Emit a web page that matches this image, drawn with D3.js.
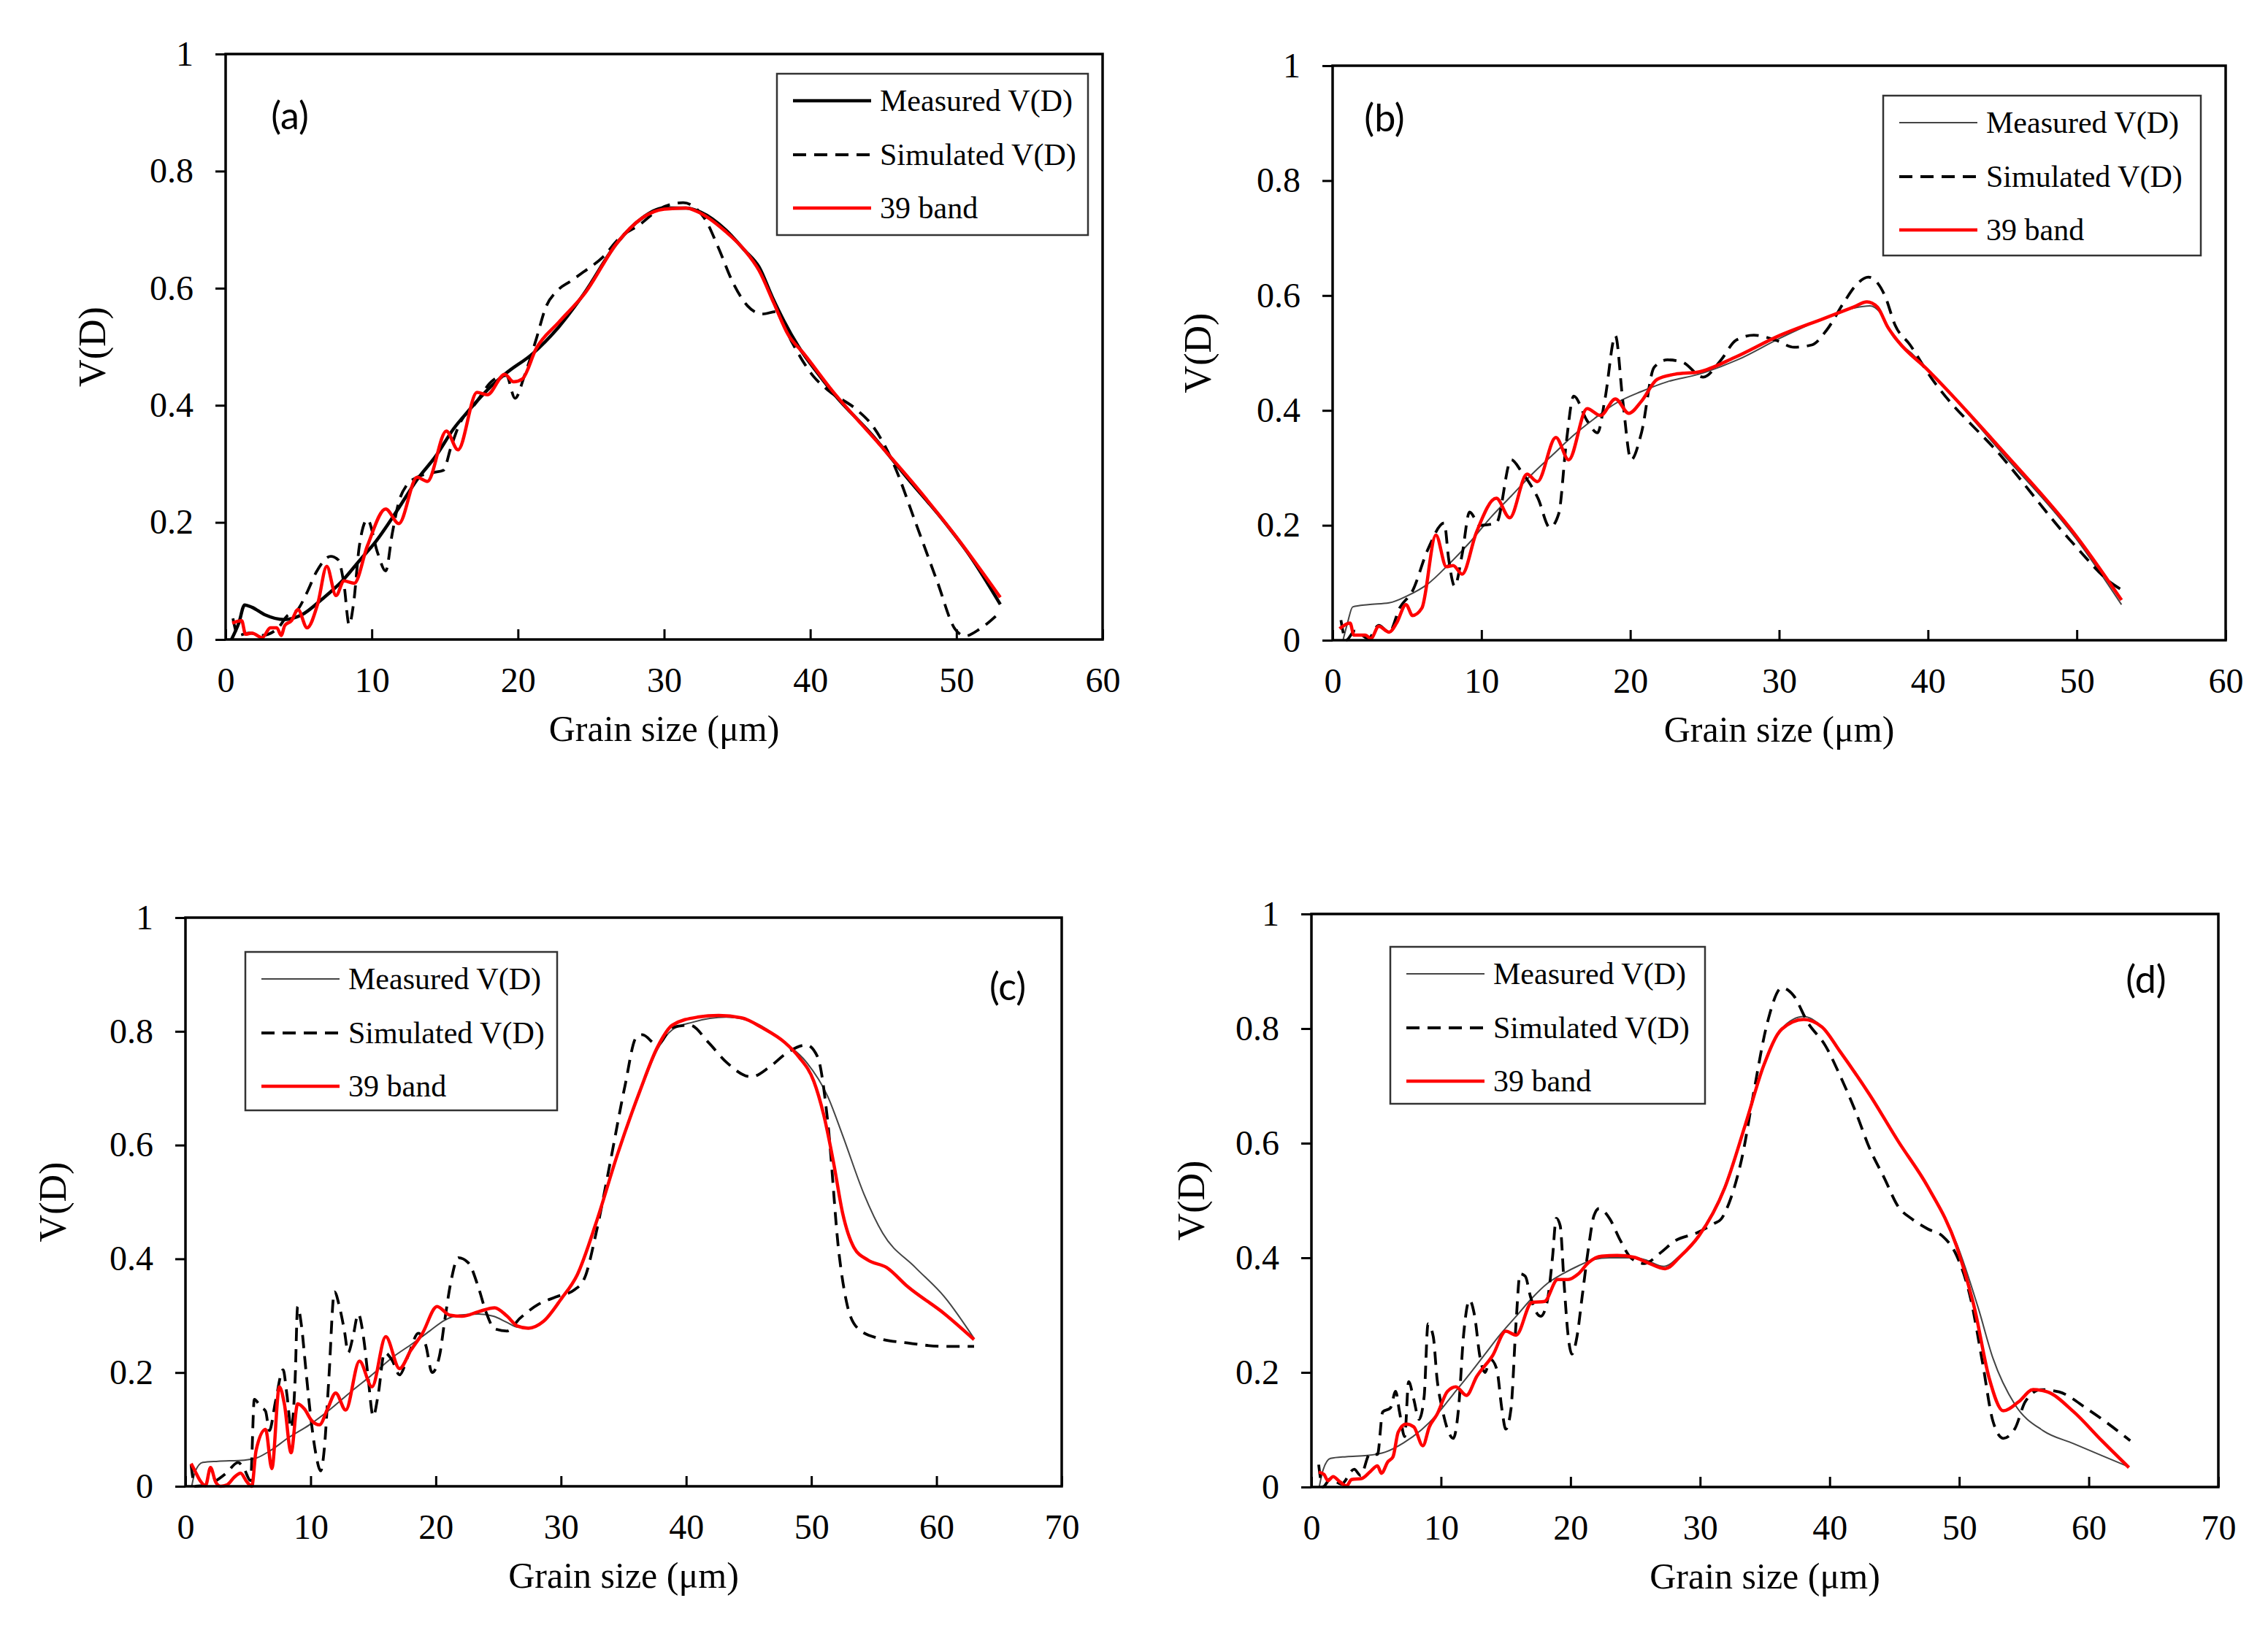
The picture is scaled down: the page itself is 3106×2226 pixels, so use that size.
<!DOCTYPE html>
<html>
<head>
<meta charset="utf-8">
<script src="https://cdn.jsdelivr.net/npm/d3@7"></script>
<style>
  html, body { margin: 0; padding: 0; background: #ffffff; }
  svg { display: block; }
</style>
</head>
<body>
<script>
// ---- data: [grain size (um), V(D)] ----
var xTicksAB = [0, 10, 20, 30, 40, 50, 60];
var xTicksCD = [0, 10, 20, 30, 40, 50, 60, 70];
var yTicks = [0, 0.2, 0.4, 0.6, 0.8, 1];
var seriesNames = ["Measured V(D)", "Simulated V(D)", "39 band"];
var panelLabels = ["(a)", "(b)", "(c)", "(d)"];

var aMeasured = [[0.4,0],[0.9,0.028],[1.3,0.059],[1.8,0.055],[2.7,0.042],[4.0,0.034],[5.2,0.042],[6.6,0.069],[7.9,0.098],[9.2,0.136],[10.2,0.165],[11.7,0.219],[13.1,0.273],[14.4,0.314],[15.6,0.36],[16.7,0.393],[17.9,0.426],[19.2,0.455],[21.0,0.488],[22.8,0.534],[24.5,0.59],[26.8,0.678],[28.5,0.72],[30,0.737],[31.5,0.737],[32.5,0.73],[34.2,0.70],[35.5,0.665],[36.5,0.636],[37.4,0.585],[38.2,0.544],[39.2,0.50],[40.5,0.455],[41.7,0.417],[44.2,0.35],[46.7,0.274],[49.2,0.2],[51,0.14],[53,0.06]];
var aSimulated = [[0.5,0.036],[0.85,0.007],[1.6,0.011],[2.5,0.007],[3.6,0.02],[4.2,0.04],[4.9,0.05],[5.6,0.082],[6.2,0.115],[7.2,0.142],[7.7,0.136],[8.1,0.094],[8.45,0.025],[8.75,0.061],[9.15,0.16],[9.7,0.205],[10.4,0.148],[10.95,0.117],[11.4,0.181],[11.85,0.235],[12.4,0.264],[13.1,0.277],[14.2,0.285],[14.9,0.289],[15.4,0.327],[16.0,0.368],[17,0.4],[18.3,0.443],[19.2,0.451],[19.8,0.412],[20.45,0.451],[21.25,0.513],[21.9,0.567],[22.7,0.596],[23.6,0.612],[24.5,0.628],[25.8,0.653],[27,0.687],[28.3,0.708],[29.8,0.737],[31.3,0.746],[32.75,0.72],[33.7,0.67],[34.7,0.61],[35.7,0.57],[36.7,0.556],[37.7,0.56],[38.7,0.51],[40.2,0.45],[41.2,0.426],[43.2,0.392],[44.2,0.367],[45.7,0.3],[47.2,0.2],[48.7,0.098],[49.9,0.018],[50.6,0.006],[51.6,0.018],[53,0.047]];
var aBand = [[0.45,0.028],[1.1,0.032],[1.36,0.009],[1.8,0.011],[2.5,0.003],[3.06,0.02],[3.5,0.02],[3.8,0.007],[4.05,0.024],[4.5,0.032],[4.95,0.051],[5.57,0.02],[6.3,0.061],[6.92,0.125],[7.55,0.075],[8.1,0.1],[8.8,0.096],[9.7,0.16],[10.95,0.223],[11.85,0.198],[13.1,0.277],[13.8,0.27],[15.1,0.356],[15.9,0.324],[17.2,0.422],[17.9,0.418],[19.1,0.453],[19.7,0.44],[20.3,0.445],[21.25,0.497],[22.8,0.542],[24.6,0.592],[26.8,0.678],[28.5,0.72],[30,0.735],[31.5,0.737],[32.5,0.728],[34.2,0.697],[35.5,0.665],[36.5,0.63],[37.5,0.575],[38.5,0.52],[39.5,0.49],[41.5,0.425],[44.5,0.34],[47,0.268],[50,0.175],[53,0.072]];

var bMeasured = [[0.7,0.0],[1.0,0.03],[1.35,0.058],[2.4,0.062],[3.8,0.065],[5.0,0.077],[6.4,0.098],[7.8,0.132],[9.2,0.17],[10.6,0.213],[12.0,0.251],[13.4,0.289],[14.8,0.323],[16.2,0.357],[17.6,0.386],[19.0,0.412],[20.75,0.433],[22.5,0.45],[24.6,0.463],[27.2,0.488],[30,0.525],[33,0.56],[35,0.578],[36.1,0.582],[36.8,0.57],[37.6,0.531],[39,0.497],[40,0.471],[45,0.325],[50,0.175],[53,0.062]];
var bSimulated = [[0.56,0.035],[0.9,0.0],[1.5,0.016],[2.4,0.003],[3.1,0.026],[3.8,0.014],[4.5,0.056],[5.37,0.086],[6.4,0.158],[7.5,0.204],[7.8,0.141],[8.2,0.094],[8.7,0.149],[9.2,0.223],[9.9,0.2],[11.0,0.204],[12.0,0.314],[12.7,0.293],[13.8,0.247],[14.6,0.196],[15.2,0.221],[15.7,0.344],[16.2,0.425],[17.1,0.382],[17.8,0.361],[18.3,0.42],[19.0,0.53],[19.5,0.416],[20.05,0.314],[20.75,0.361],[21.6,0.475],[22.5,0.488],[23.5,0.484],[24.9,0.458],[26.1,0.488],[27.1,0.522],[28.3,0.531],[29.8,0.522],[31,0.51],[32.2,0.514],[33.2,0.54],[34.4,0.59],[35.1,0.616],[36,0.632],[37.1,0.6],[37.8,0.548],[38.8,0.514],[40,0.465],[45,0.318],[49.8,0.167],[52.4,0.098],[53,0.088]];
var bBand = [[0.47,0.02],[1.17,0.03],[1.43,0.009],[2.2,0.009],[2.57,0.003],[3.1,0.024],[3.8,0.014],[4.3,0.03],[4.93,0.062],[5.37,0.043],[6.0,0.056],[6.94,0.183],[7.64,0.128],[8.1,0.13],[8.7,0.115],[9.65,0.187],[11.0,0.247],[11.9,0.213],[13.06,0.289],[13.76,0.276],[15.0,0.353],[15.86,0.314],[17.1,0.403],[18.0,0.391],[19.0,0.42],[19.9,0.395],[20.75,0.416],[21.8,0.454],[23.0,0.463],[24.6,0.467],[27.0,0.492],[30,0.53],[33,0.56],[35,0.58],[35.9,0.589],[36.6,0.58],[37.3,0.545],[38,0.52],[40,0.47],[45,0.33],[50,0.18],[53,0.07]];

var cMeasured = [[0.5,0],[0.76,0.025],[1.38,0.042],[2.6,0.044],[4.7,0.046],[5.7,0.05],[6.8,0.063],[8.2,0.085],[9.9,0.108],[11.6,0.136],[13.2,0.166],[14.9,0.196],[16.5,0.226],[18.2,0.252],[19.5,0.273],[20.7,0.292],[21.9,0.301],[23.4,0.303],[24.6,0.299],[25.7,0.288],[26.5,0.28],[27.5,0.279],[28.6,0.29],[30,0.328],[31.3,0.372],[32.8,0.463],[34.5,0.583],[36.3,0.692],[37.7,0.768],[38.9,0.803],[40.5,0.816],[43.2,0.825],[45.5,0.815],[47.9,0.78],[49.6,0.746],[51.3,0.686],[52.5,0.617],[54.2,0.514],[55.7,0.445],[58.3,0.385],[60.6,0.334],[63,0.26]];
var cSimulated = [[0.45,0.038],[0.76,0],[2.0,0.005],[3.25,0.023],[4.2,0.042],[4.7,0.03],[5.2,0.01],[5.5,0.153],[6.0,0.14],[6.4,0.132],[6.7,0.098],[7.2,0.15],[7.8,0.205],[8.1,0.162],[8.45,0.102],[8.76,0.188],[8.96,0.316],[9.27,0.282],[9.6,0.209],[10.0,0.123],[10.4,0.059],[10.8,0.027],[11.1,0.068],[11.45,0.188],[11.9,0.342],[12.3,0.316],[12.7,0.273],[13.0,0.235],[13.4,0.265],[13.8,0.303],[14.26,0.256],[14.57,0.196],[15.0,0.123],[15.4,0.162],[15.9,0.235],[16.5,0.222],[17.1,0.196],[17.8,0.23],[18.6,0.269],[19.2,0.248],[19.7,0.2],[20.3,0.23],[20.7,0.29],[21.2,0.359],[21.8,0.402],[22.6,0.393],[23.4,0.35],[24.0,0.307],[24.7,0.277],[25.7,0.273],[26.7,0.295],[28.2,0.32],[29.6,0.333],[31.1,0.346],[31.9,0.367],[32.8,0.445],[33.9,0.566],[35.1,0.703],[36,0.789],[36.5,0.794],[37.7,0.776],[38.9,0.807],[40.3,0.811],[41.8,0.78],[43.2,0.746],[45.2,0.72],[46.7,0.738],[48.1,0.763],[49.6,0.776],[50.5,0.755],[51.3,0.643],[52.2,0.411],[52.8,0.325],[53.7,0.278],[55.4,0.26],[57.7,0.252],[60.6,0.246],[63,0.246]];
var cBand = [[0.45,0.04],[0.76,0.027],[1.17,0.01],[1.6,0.001],[2.0,0.033],[2.4,0.008],[2.8,0],[3.35,0.003],[3.9,0.016],[4.4,0.023],[4.9,0.008],[5.3,0],[5.64,0.063],[6.4,0.1],[6.9,0.031],[7.5,0.175],[7.9,0.145],[8.44,0.059],[8.96,0.145],[9.5,0.136],[10.1,0.115],[10.7,0.108],[11.35,0.136],[12.0,0.164],[12.8,0.134],[13.9,0.22],[14.9,0.175],[16.0,0.263],[17.1,0.207],[18.0,0.239],[18.93,0.269],[20.1,0.316],[21.1,0.301],[22.1,0.299],[23.4,0.307],[24.7,0.314],[25.7,0.299],[26.5,0.282],[27.4,0.278],[28.6,0.29],[30.0,0.329],[31.3,0.372],[32.8,0.463],[34.5,0.583],[36.3,0.695],[37.7,0.772],[38.9,0.811],[40.9,0.825],[42.6,0.828],[44.4,0.824],[46.1,0.806],[47.9,0.78],[49,0.755],[50.2,0.712],[51,0.652],[51.8,0.566],[52.5,0.48],[53.4,0.42],[54.5,0.398],[56,0.385],[57.7,0.351],[60.6,0.304],[63,0.258]];

var dMeasured = [[0.6,0],[0.9,0.03],[1.47,0.05],[2.7,0.053],[4.3,0.055],[5.7,0.061],[7.1,0.077],[8.5,0.1],[9.7,0.127],[10.95,0.162],[12.2,0.197],[13.4,0.232],[14.6,0.267],[15.8,0.298],[17.0,0.329],[18.2,0.355],[19.4,0.372],[20.6,0.386],[21.8,0.397],[23.0,0.4],[24.9,0.4],[25.7,0.397],[27.2,0.385],[28.5,0.405],[29.9,0.44],[31.9,0.525],[33.5,0.633],[34.9,0.735],[36.3,0.8],[38,0.821],[39.4,0.803],[40.8,0.76],[43.1,0.684],[45.3,0.603],[47.6,0.523],[49.8,0.425],[51.5,0.31],[52.6,0.225],[54.3,0.144],[56.5,0.098],[58.8,0.076],[61,0.055],[63,0.036]];
var dSimulated = [[0.56,0.039],[0.87,0],[1.5,0.015],[2.3,0.005],[3.3,0.031],[3.8,0.02],[4.5,0.057],[5.1,0.057],[5.5,0.131],[6.1,0.138],[6.5,0.167],[6.8,0.131],[7.2,0.088],[7.5,0.184],[7.9,0.153],[8.3,0.118],[8.7,0.158],[9.0,0.285],[9.4,0.263],[9.7,0.188],[10.1,0.136],[10.5,0.101],[10.95,0.085],[11.35,0.136],[11.75,0.267],[12.2,0.326],[12.6,0.298],[13.0,0.228],[13.4,0.2],[13.8,0.223],[14.3,0.206],[14.7,0.136],[15.0,0.101],[15.4,0.136],[15.8,0.289],[16.1,0.372],[16.5,0.368],[16.9,0.333],[17.3,0.307],[17.7,0.298],[18.2,0.324],[18.6,0.399],[18.9,0.469],[19.2,0.456],[19.5,0.355],[19.8,0.267],[20.1,0.232],[20.5,0.263],[20.9,0.333],[21.4,0.42],[21.8,0.473],[22.2,0.486],[23.0,0.469],[23.85,0.43],[24.7,0.399],[25.7,0.39],[26.9,0.408],[28.1,0.43],[29.7,0.443],[31.1,0.46],[31.6,0.467],[32.4,0.506],[33.3,0.582],[34.1,0.684],[35.2,0.811],[36.3,0.871],[37.2,0.858],[38.3,0.811],[39.7,0.769],[40.8,0.718],[41.95,0.658],[43.1,0.59],[44.2,0.54],[45.3,0.489],[46.4,0.467],[47.6,0.45],[48.7,0.438],[49.8,0.404],[50.9,0.327],[51.8,0.217],[52.6,0.115],[53.4,0.085],[54.3,0.102],[55.1,0.149],[56.3,0.17],[57.7,0.166],[59.9,0.136],[63.2,0.081]];
var dBand = [[0.56,0.026],[0.97,0.022],[1.27,0.011],[1.67,0.018],[2.2,0.009],[2.7,0.002],[3.1,0.013],[3.9,0.015],[4.5,0.026],[5.1,0.037],[5.4,0.024],[5.9,0.044],[6.3,0.053],[6.7,0.096],[7.3,0.11],[7.9,0.105],[8.6,0.072],[9.1,0.105],[9.7,0.127],[10.5,0.167],[11.15,0.175],[11.96,0.16],[12.76,0.193],[14.0,0.23],[15.0,0.272],[15.8,0.265],[17.0,0.322],[18.0,0.324],[19.0,0.362],[19.8,0.362],[20.6,0.372],[21.4,0.392],[22.4,0.403],[23.6,0.404],[24.9,0.401],[25.9,0.392],[27.3,0.381],[28.5,0.403],[29.9,0.438],[31.9,0.522],[33.5,0.633],[34.9,0.735],[36.3,0.799],[38,0.816],[39.4,0.803],[40.8,0.76],[43.1,0.684],[45.3,0.603],[47.6,0.523],[49.8,0.42],[51.2,0.31],[52.3,0.191],[53.4,0.133],[54.6,0.149],[55.7,0.17],[56.8,0.166],[58.8,0.132],[61,0.081],[63.1,0.034]];

// ---- layout (pixels) ----
var W = 3106, H = 2226;
var SERIF = "'Liberation Serif', 'Times New Roman', serif";

var panels = [
    {label: panelLabels[0], left: 309, right: 1510, top: 74, bottom: 876, xTicks: xTicksAB,
     series: [aMeasured, aSimulated, aBand], measColor: "#000000", measWidth: 4.5,
     legend: {x: 1064, y: 101, w: 426, h: 221}, tag: {x: 397, y: 157}, yTitleOff: 183},
    {label: panelLabels[1], left: 1825, right: 3048, top: 90, bottom: 877, xTicks: xTicksAB,
     series: [bMeasured, bSimulated, bBand], measColor: "#444444", measWidth: 2,
     legend: {x: 2579, y: 131, w: 435, h: 219}, tag: {x: 1896, y: 160}, yTitleOff: 185},
    {label: panelLabels[2], left: 254, right: 1454, top: 1257, bottom: 2036, xTicks: xTicksCD,
     series: [cMeasured, cSimulated, cBand], measColor: "#444444", measWidth: 2,
     legend: {x: 336, y: 1304, w: 427, h: 217}, tag: {x: 1380, y: 1350}, yTitleOff: 182},
    {label: panelLabels[3], left: 1796, right: 3038, top: 1252, bottom: 2037, xTicks: xTicksCD,
     series: [dMeasured, dSimulated, dBand], measColor: "#444444", measWidth: 2,
     legend: {x: 1904, y: 1297, w: 431, h: 215}, tag: {x: 2939, y: 1340}, yTitleOff: 165}
];

var svg = d3.select("body").append("svg")
    .attr("width", W).attr("height", H)
    .attr("viewBox", "0 0 " + W + " " + H);
svg.append("rect").attr("width", W).attr("height", H).attr("fill", "#ffffff");

function fmtY(d) {
    if (d === 0) return "0";
    if (d === 1) return "1";
    return d3.format(".1f")(d);
}

function styleFor(p, i) {
    // 0 measured, 1 simulated, 2 39 band
    if (i === 0) return {stroke: p.measColor, width: p.measWidth, dash: null};
    if (i === 1) return {stroke: "#000000", width: 3.8, dash: "18,11"};
    return {stroke: "#ff0000", width: 4.5, dash: null};
}

panels.forEach(function(p) {
    var x = d3.scaleLinear().domain([0, d3.max(p.xTicks)]).range([p.left, p.right]);
    var y = d3.scaleLinear().domain([0, 1]).range([p.bottom, p.top]);
    var g = svg.append("g");

    // x axis: ticks point into the plot
    var xAxis = g.append("g")
        .attr("transform", "translate(0," + p.bottom + ")")
        .call(d3.axisBottom(x).tickValues(p.xTicks).tickSize(-14).tickPadding(38).tickFormat(d3.format("d")));
    // y axis: ticks point outward
    var yAxis = g.append("g")
        .attr("transform", "translate(" + p.left + ",0)")
        .call(d3.axisLeft(y).tickValues(yTicks).tickSize(14).tickPadding(30).tickFormat(fmtY));

    [xAxis, yAxis].forEach(function(ax) {
        ax.select(".domain").remove();
        ax.selectAll("line").attr("stroke", "#000").attr("stroke-width", 3);
        ax.selectAll("text").attr("font-family", SERIF).attr("font-size", 48).attr("fill", "#000");
    });

    // lines
    var line = d3.line()
        .x(function(d) { return x(d[0]); })
        .y(function(d) { return y(d[1]); })
        .curve(d3.curveMonotoneX);

    p.series.forEach(function(data, i) {
        var s = styleFor(p, i);
        g.append("path")
            .datum(data)
            .attr("d", line)
            .attr("fill", "none")
            .attr("stroke", s.stroke)
            .attr("stroke-width", s.width)
            .attr("stroke-dasharray", s.dash)
            .attr("stroke-linejoin", "round")
            .attr("stroke-linecap", "butt");
    });

    // frame
    g.append("rect")
        .attr("x", p.left).attr("y", p.top)
        .attr("width", p.right - p.left).attr("height", p.bottom - p.top)
        .attr("fill", "none").attr("stroke", "#000").attr("stroke-width", 3.5);

    // axis titles
    g.append("text")
        .attr("x", (p.left + p.right) / 2).attr("y", p.bottom + 122)
        .attr("text-anchor", "middle").attr("dominant-baseline", "central")
        .attr("font-family", SERIF).attr("font-size", 50).attr("fill", "#000")
        .text("Grain size (\u03bcm)");
    var cy = (p.top + p.bottom) / 2;
    g.append("text")
        .attr("transform", "translate(" + (p.left - p.yTitleOff) + "," + cy + ") rotate(-90)")
        .attr("text-anchor", "middle").attr("dominant-baseline", "central")
        .attr("font-family", SERIF).attr("font-size", 52).attr("fill", "#000")
        .text("V(D)");

    // panel tag
    g.append("text")
        .attr("x", p.tag.x).attr("y", p.tag.y)
        .attr("text-anchor", "middle").attr("dominant-baseline", "central")
        .attr("font-family", "Lato, 'Open Sans', sans-serif").attr("font-size", 52).attr("fill", "#000")
        .text(p.label);

    // legend
    var L = p.legend;
    var lg = g.append("g").attr("transform", "translate(" + L.x + "," + L.y + ")");
    lg.append("rect").attr("width", L.w).attr("height", L.h)
        .attr("fill", "#ffffff").attr("stroke", "#333").attr("stroke-width", 2.5);
    var rows = [37, 111, 184];
    seriesNames.forEach(function(name, i) {
        var s = styleFor(p, i);
        lg.append("line")
            .attr("x1", 22).attr("x2", 129).attr("y1", rows[i]).attr("y2", rows[i])
            .attr("stroke", s.stroke).attr("stroke-width", s.width)
            .attr("stroke-dasharray", s.dash);
        lg.append("text")
            .attr("x", 141).attr("y", rows[i])
            .attr("dominant-baseline", "central")
            .attr("font-family", SERIF).attr("font-size", 42).attr("fill", "#000")
            .text(name);
    });
});
</script>
</body>
</html>
